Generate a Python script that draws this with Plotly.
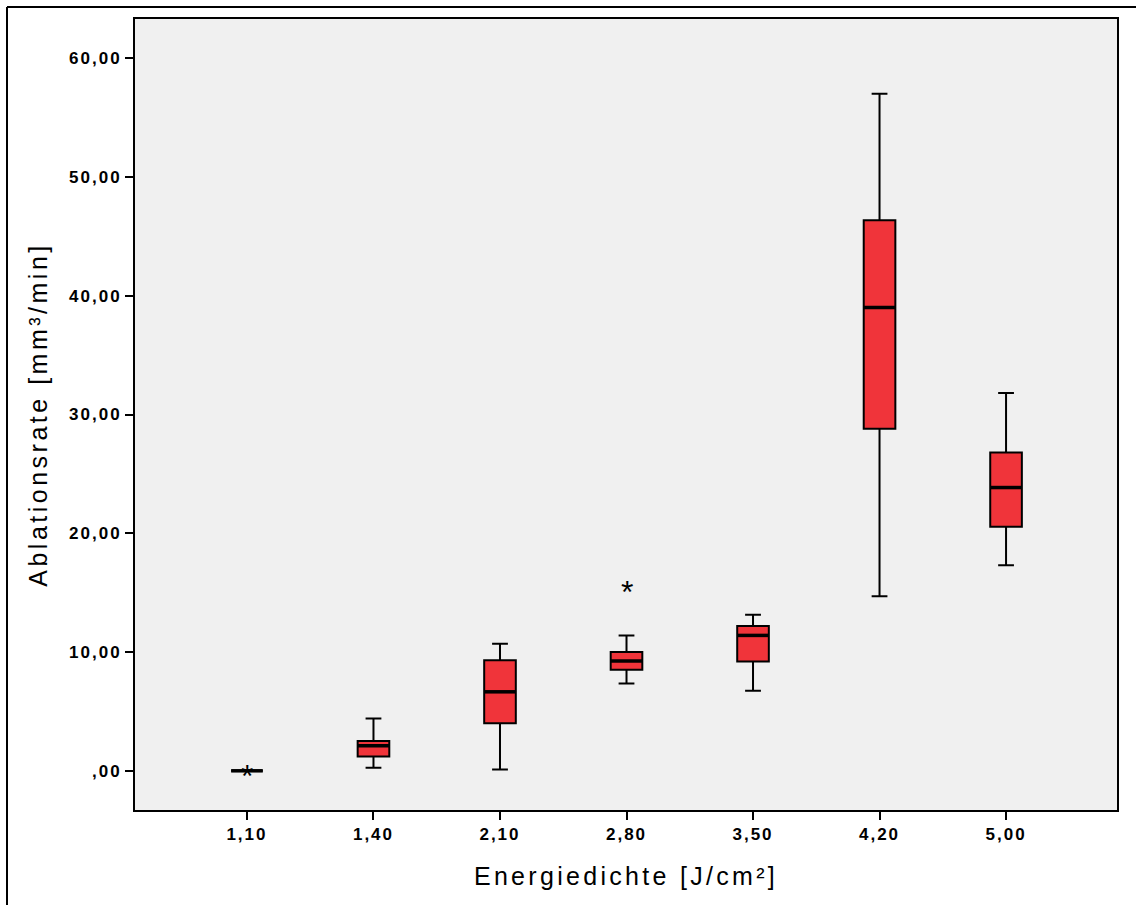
import plotly.graph_objects as go

categories = ["1,10", "1,40", "2,10", "2,80", "3,50", "4,20", "5,00"]
lower_whisker = [0.0, 0.25, 0.1, 7.35, 6.75, 14.7, 17.3]
q1 = [0.0, 1.2, 4.0, 8.5, 9.2, 28.8, 20.55]
median = [0.0, 2.1, 6.65, 9.25, 11.4, 39.0, 23.85]
q3 = [0.0, 2.5, 9.3, 10.0, 12.2, 46.35, 26.8]
upper_whisker = [0.0, 4.4, 10.7, 11.4, 13.15, 57.0, 31.8]
outlier_cat = ["1,10", "2,80"]
outlier_val = [0.0, 15.5]
y_tickvals = [0, 10, 20, 30, 40, 50, 60]
y_ticktext = [",00", "10,00", "20,00", "30,00", "40,00", "50,00", "60,00"]

pos = list(range(len(categories)))
fill = "rgb(240,52,58)"

def spaced(t, ls):
    return f'<span style="letter-spacing:{ls}px">{t}</span>'

fig = go.Figure()
fig.add_trace(go.Box(
    x=pos, q1=q1, median=median, q3=q3,
    lowerfence=lower_whisker, upperfence=upper_whisker,
    fillcolor=fill, line=dict(color="black", width=2),
    width=0.25, whiskerwidth=0.5, boxpoints=False, showlegend=False,
    hoverinfo="skip",
))
# thicker median lines
mx, my = [], []
for i, m in enumerate(median):
    mx += [i - 0.125, i + 0.125, None]
    my += [m, m, None]
fig.add_trace(go.Scatter(x=mx, y=my, mode="lines",
                         line=dict(color="black", width=3.5),
                         showlegend=False, hoverinfo="skip"))

# outliers drawn as asterisk glyphs
annotations = [
    dict(x=categories.index(c), y=v, xref="x", yref="y", text="*",
         showarrow=False, xanchor="center", yanchor="middle", yshift=-5,
         font=dict(size=32, color="black", family="Liberation Sans"))
    for c, v in zip(outlier_cat, outlier_val)
]

W, H = 1136, 905
L, R, T, B = 135, 1117, 19, 810
pw, ph = R - L, B - T
def px(x): return (x - L) / pw
def py(y): return (B - y) / ph

fig.update_layout(
    width=W, height=H,
    margin=dict(l=L, r=W - R, t=T, b=H - B),
    paper_bgcolor="white", plot_bgcolor="rgb(240,240,240)",
    font=dict(family="Arial, Liberation Sans", color="black"),
    annotations=annotations,
    xaxis=dict(
        range=[-0.885, 6.877], tickvals=pos,
        ticktext=[spaced(c, 2.0) for c in categories],
        ticks="outside", ticklen=8, tickwidth=2, tickcolor="black",
        showline=True, linecolor="black", linewidth=2, mirror=True,
        showgrid=False, zeroline=False,
        tickfont=dict(size=17, weight="bold"),
        title=dict(text=spaced("Energiedichte [J/cm²]", 3.3),
                   font=dict(size=25), standoff=24),
    ),
    yaxis=dict(
        range=[-3.3, 63.3], tickvals=y_tickvals,
        ticktext=[spaced(t, 2.0) for t in y_ticktext],
        ticks="outside", ticklen=8, tickwidth=2, tickcolor="black",
        showline=True, linecolor="black", linewidth=2, mirror=True,
        showgrid=False, zeroline=False,
        tickfont=dict(size=17, weight="bold"),
        title=dict(text=spaced("Ablationsrate [mm³/min]", 3.5),
                   font=dict(size=25), standoff=14),
    ),
    shapes=[
        dict(type="line", xref="paper", yref="paper",
             x0=px(7), x1=px(1140), y0=py(7), y1=py(7),
             line=dict(color="black", width=2)),
        dict(type="line", xref="paper", yref="paper",
             x0=px(7), x1=px(7), y0=py(7), y1=py(910),
             line=dict(color="black", width=2)),
    ],
)
fig.write_html("out.html")
